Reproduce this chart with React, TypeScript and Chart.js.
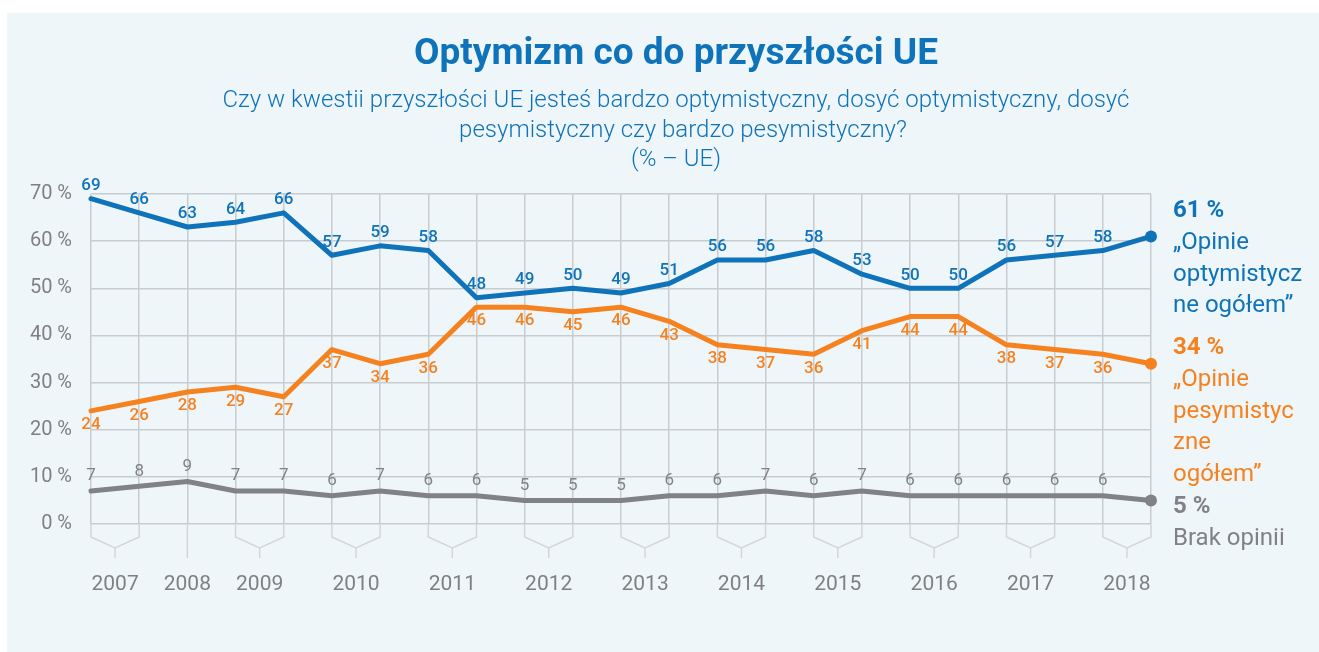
import React, { useEffect, useRef } from "react";
import { Chart, registerables } from "chart.js";

Chart.register(...registerables);

// ---- Data ----
const surveyYears = [
  "2007", "2007", "2008", "2009", "2009", "2010", "2010", "2011", "2011",
  "2012", "2012", "2013", "2013", "2014", "2014", "2015", "2015",
  "2016", "2016", "2017", "2017", "2018", "2018",
];
const surveyLabels = surveyYears.map((y, i) => `${y} #${i + 1}`);

const optimistic = [69, 66, 63, 64, 66, 57, 59, 58, 48, 49, 50, 49, 51, 56, 56, 58, 53, 50, 50, 56, 57, 58, 61];
const pessimistic = [24, 26, 28, 29, 27, 37, 34, 36, 46, 46, 45, 46, 43, 38, 37, 36, 41, 44, 44, 38, 37, 36, 34];
const noOpinion = [7, 8, 9, 7, 7, 6, 7, 6, 6, 5, 5, 5, 6, 6, 7, 6, 7, 6, 6, 6, 6, 6, 5];

const yMin = 0;
const yMax = 70;
const yStep = 10;

const titleText = "Optymizm co do przyszłości UE";
const subtitleLines = [
  "Czy w kwestii przyszłości UE jesteś bardzo optymistyczny, dosyć optymistyczny, dosyć",
  "pesymistyczny czy bardzo pesymistyczny?",
  "(% – UE)",
];

const endLabels = [
  { value: "61 %", lines: ["„Opinie", "optymistycz", "ne ogółem”"] },
  { value: "34 %", lines: ["„Opinie", "pesymistyc", "zne", "ogółem”"] },
  { value: "5 %", lines: ["Brak opinii"] },
];

// ---- Styles ----
const FONT = "Roboto, 'Open Sans', sans-serif";
const BLUE = "#0F73BA";
const ORANGE = "#F5821F";
const GREY_LINE = "#808285";
const GREY_TEXT = "#808080";
const GRID = "#C9CCCF";
const BRACKET = "#D3D6D9";
const PANEL = "#EFF6FA";

const seriesStyles = [
  { color: BLUE, labelDy: -13, weight: "500" },
  { color: ORANGE, labelDy: 14, weight: "500" },
  { color: GREY_LINE, labelDy: -15, weight: "400" },
];

const panelPlugin = {
  id: "panel",
  beforeDraw(chart: any) {
    const { ctx } = chart;
    ctx.save();
    ctx.fillStyle = "#FFFFFF";
    ctx.fillRect(0, 0, chart.width, chart.height);
    ctx.fillStyle = PANEL;
    ctx.fillRect(7, 13, chart.width - 7, chart.height - 13);
    ctx.restore();
  },
};

const decorPlugin = {
  id: "decor",
  afterDraw(chart: any) {
    const { ctx, chartArea } = chart;
    const xs = chart.scales.x;
    const b = chartArea.bottom;
    ctx.save();

    // Title
    ctx.textAlign = "center";
    ctx.textBaseline = "middle";
    ctx.fillStyle = BLUE;
    ctx.font = `bold 37px ${FONT}`;
    ctx.fillText(titleText, 676, 55);
    ctx.font = `300 24px ${FONT}`;
    ctx.fillText(subtitleLines[0], 676, 101);
    ctx.fillText(subtitleLines[1], 683, 131);
    ctx.fillText(subtitleLines[2], 676, 160);

    // Year brackets and labels
    const groups: { year: string; idx: number[] }[] = [];
    surveyYears.forEach((y, i) => {
      const last = groups[groups.length - 1];
      if (last && last.year === y) last.idx.push(i);
      else groups.push({ year: y, idx: [i] });
    });
    ctx.lineWidth = 1.5;
    ctx.strokeStyle = BRACKET;
    ctx.fillStyle = GREY_TEXT;
    ctx.font = `400 21px ${FONT}`;
    ctx.textAlign = "center";
    groups.forEach((g) => {
      const x1 = xs.getPixelForValue(g.idx[0]);
      const x2 = xs.getPixelForValue(g.idx[g.idx.length - 1]);
      const cx = (x1 + x2) / 2;
      ctx.beginPath();
      if (g.idx.length === 1) {
        ctx.moveTo(x1, b);
        ctx.lineTo(x1, b + 34);
      } else {
        ctx.moveTo(x1, b);
        ctx.lineTo(x1, b + 13);
        ctx.lineTo(cx, b + 24);
        ctx.lineTo(x2, b + 13);
        ctx.lineTo(x2, b);
        ctx.moveTo(cx, b + 24);
        ctx.lineTo(cx, b + 34);
      }
      ctx.stroke();
      ctx.fillText(g.year, cx, b + 61);
    });

    // Data labels
    ctx.textBaseline = "middle";
    chart.data.datasets.forEach((ds: any, di: number) => {
      const meta = chart.getDatasetMeta(di);
      const st = seriesStyles[di];
      ctx.fillStyle = st.color;
      ctx.font = `${st.weight} 17px ${FONT}`;
      ctx.textAlign = "center";
      meta.data.forEach((pt: any, i: number) => {
        if (i === meta.data.length - 1) return;
        ctx.fillText(String(ds.data[i]), pt.x, pt.y + st.labelDy);
      });
    });

    // End labels
    const ex = 1173;
    ctx.textAlign = "left";
    const colors = [BLUE, ORANGE, GREY_LINE];
    const startY = [211, 348, 507];
    endLabels.forEach((el, k) => {
      ctx.fillStyle = colors[k];
      ctx.font = `bold 24px ${FONT}`;
      ctx.fillText(el.value, ex, startY[k]);
      ctx.font = `400 24px ${FONT}`;
      el.lines.forEach((ln, j) => {
        ctx.fillText(ln, ex, startY[k] + 32 + j * 31.5);
      });
    });

    ctx.restore();
  },
};

export default function App() {
  const ref = useRef<HTMLCanvasElement>(null);

  useEffect(() => {
    if (!ref.current) return;
    const lastIdx = surveyLabels.length - 1;
    const mkSet = (label: string, data: number[], color: string) => ({
      label,
      data,
      borderColor: color,
      backgroundColor: color,
      borderWidth: 5,
      tension: 0,
      pointRadius: (c: any) => (c.dataIndex === lastIdx ? 6 : 0),
      pointHoverRadius: 0,
      pointBorderWidth: 0,
      borderJoinStyle: "round" as const,
      borderCapStyle: "round" as const,
    });
    const chart = new Chart(ref.current, {
      type: "line",
      data: {
        labels: surveyLabels,
        datasets: [
          mkSet("Opinie optymistyczne ogółem", optimistic, BLUE),
          mkSet("Opinie pesymistyczne ogółem", pessimistic, ORANGE),
          mkSet("Brak opinii", noOpinion, GREY_LINE),
        ],
      },
      options: {
        responsive: false,
        animation: false,
        layout: { padding: { left: 0, top: 194, right: 168, bottom: 0 }, autoPadding: false },
        plugins: {
          legend: { display: false },
          tooltip: { enabled: false },
          title: { display: false },
        },
        scales: {
          x: {
            type: "category",
            offset: false,
            border: { display: false },
            grid: { color: GRID, lineWidth: 1.5, drawTicks: false },
            ticks: { display: false },
            afterFit: (s: any) => {
              s.height = 128;
            },
          },
          y: {
            min: yMin,
            max: yMax,
            border: { display: false },
            grid: { color: GRID, lineWidth: 1.5, drawTicks: false },
            ticks: {
              stepSize: yStep,
              padding: 19,
              color: GREY_TEXT,
              font: { family: FONT, size: 20, weight: "normal" },
              callback: (v: any) => `${v} %`,
            },
            afterFit: (s: any) => {
              s.width = 91;
            },
          },
        },
      },
      plugins: [panelPlugin, decorPlugin],
    });
    return () => chart.destroy();
  }, []);

  return (
    <div style={{ position: "absolute", left: 0, top: 0, width: 1319, height: 652 }}>
      <canvas ref={ref} width={1319} height={652} style={{ display: "block", width: 1319, height: 652 }} />
    </div>
  );
}
